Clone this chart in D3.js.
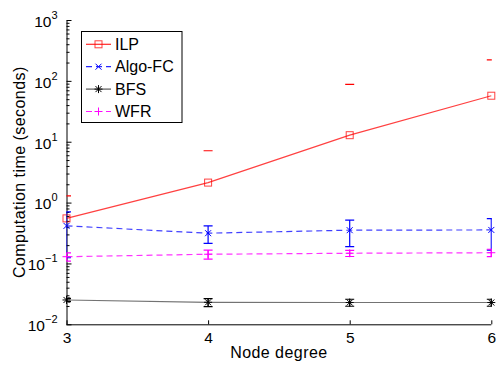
<!DOCTYPE html>
<html>
<head>
<meta charset="utf-8">
<script src="https://cdn.jsdelivr.net/npm/d3@7"></script>
<style>
  body { margin: 0; background: #fff; }
  text { font-family: "Liberation Sans", Arial, Helvetica, sans-serif; fill: #000; }
</style>
</head>
<body>
<svg id="chart" width="499" height="365"></svg>
<script>
// data
var degree = [3, 4, 5, 6];
var ilp = [0.55, 2.13, 12.8, 57];
var ilpErr = [0.74, 4.97, 75, 165];
var algoFC = [0.414, 0.314, 0.352, 0.355];
var algoFCErr = [0.29, 0.10, 0.163, 0.19];
var bfs = [0.0251, 0.0230, 0.0228, 0.0228];
var bfsErr = [0.0015, 0.0035, 0.003, 0.003];
var wfr = [0.129, 0.1416, 0.147, 0.150];
var wfrErr = [0.02, 0.024, 0.017, 0.021];
var yMajor = [-2, -1, 0, 1, 2, 3];

var series = [
  {name: "ILP", y: ilp, err: ilpErr, color: "#ff0000", dash: null, marker: "square", lineOpacity: 0.75},
  {name: "Algo-FC", y: algoFC, err: algoFCErr, color: "#0000ff", dash: "6,4", marker: "x", lineOpacity: 0.75},
  {name: "BFS", y: bfs, err: bfsErr, color: "#000000", dash: null, marker: "star", lineOpacity: 0.55},
  {name: "WFR", y: wfr, err: wfrErr, color: "#ff00ff", dash: "6,4", marker: "plus", lineOpacity: 0.8}
];

var svg = d3.select("#chart");
var mLeft = 66.5, mRight = 491.3, mTop = 20, mBottom = 324.3;

var x = d3.scaleLinear().domain([3, 6]).range([mLeft, mRight]);
var y = d3.scaleLog().domain([1e-2, 1e3]).range([mBottom, mTop]);

svg.append("defs").append("clipPath").attr("id", "plotclip")
  .append("rect").attr("x", mLeft).attr("y", mTop).attr("width", mRight - mLeft + 0.5).attr("height", mBottom - mTop);

// minor ticks on log axis
var minors = [];
yMajor.slice(0, -1).forEach(function(e) {
  for (var k = 2; k < 10; k++) minors.push(k * Math.pow(10, e));
});

svg.append("g")
  .attr("transform", "translate(" + mLeft + ",0)")
  .call(d3.axisLeft(y).tickValues(minors).tickSize(-3).tickSizeOuter(0).tickFormat(""))
  .call(function(g) { g.select(".domain").remove(); g.selectAll("line").attr("stroke", "#000"); });

var yAxis = svg.append("g")
  .attr("transform", "translate(" + mLeft + ",0)")
  .call(d3.axisLeft(y).tickValues(yMajor.map(function(e) { return Math.pow(10, e); }))
    .tickSize(-5).tickSizeOuter(0).tickFormat(""));
yAxis.selectAll("line, path").attr("stroke", "#000");

// superscript labels 10^n
yMajor.forEach(function(e) {
  var t = svg.append("text")
    .attr("x", 57.5).attr("y", y(Math.pow(10, e)) + 6.8)
    .attr("text-anchor", "end").style("font-size", "15.5px");
  t.append("tspan").text("10");
  t.append("tspan").attr("dy", -8).style("font-size", "11px")
    .text(String(e).replace("-", "\u2212"));
});

var xAxis = svg.append("g")
  .attr("transform", "translate(0," + mBottom + ")")
  .call(d3.axisBottom(x).tickValues(degree).tickSize(-4).tickSizeOuter(0).tickFormat(d3.format("d")));
xAxis.selectAll("line, path").attr("stroke", "#000");
xAxis.selectAll("text").style("font-size", "15.5px").attr("y", 7).attr("dy", "0.75em").attr("fill", "#000");
xAxis.select(".domain").attr("d", "M" + mLeft + ",0.5H" + mRight);

svg.append("text")
  .attr("x", (mLeft + mRight) / 2).attr("y", 357.5)
  .attr("text-anchor", "middle").style("font-size", "16px").style("letter-spacing", "0.45px")
  .text("Node degree");

svg.append("text")
  .attr("transform", "translate(25," + ((mTop + mBottom) / 2) + ") rotate(-90)")
  .attr("text-anchor", "middle").style("font-size", "16px").style("letter-spacing", "0.45px")
  .text("Computation time (seconds)");

function drawMarker(g, type, cx, cy, color) {
  if (type === "square") {
    g.append("rect").attr("x", cx - 3.5).attr("y", cy - 3.5).attr("width", 7).attr("height", 7)
      .attr("fill", "none").attr("stroke", color).attr("stroke-opacity", 0.75);
  } else if (type === "x") {
    g.append("path").attr("d", "M" + (cx - 3) + "," + (cy - 3) + "L" + (cx + 3) + "," + (cy + 3) +
      "M" + (cx - 3) + "," + (cy + 3) + "L" + (cx + 3) + "," + (cy - 3))
      .attr("stroke", color).attr("fill", "none");
  } else if (type === "plus") {
    g.append("path").attr("d", "M" + (cx - 4) + "," + cy + "H" + (cx + 4) + "M" + cx + "," + (cy - 4) + "V" + (cy + 4))
      .attr("stroke", color).attr("fill", "none");
  } else if (type === "star") {
    g.append("path").attr("d", "M" + (cx - 4) + "," + cy + "H" + (cx + 4) + "M" + cx + "," + (cy - 4) + "V" + (cy + 4) +
      "M" + (cx - 3) + "," + (cy - 3) + "L" + (cx + 3) + "," + (cy + 3) +
      "M" + (cx - 3) + "," + (cy + 3) + "L" + (cx + 3) + "," + (cy - 3))
      .attr("stroke", color).attr("fill", "none");
  }
}

var line = d3.line()
  .x(function(d, i) { return x(degree[i]); })
  .y(function(d) { return y(d); });

series.forEach(function(s) {
  var g = svg.append("g");
  g.append("path").datum(s.y)
    .attr("d", line)
    .attr("fill", "none")
    .attr("stroke", s.color)
    .attr("stroke-opacity", s.lineOpacity)
    .attr("stroke-width", 1.2)
    .attr("stroke-dasharray", s.dash);

  // error bars (clipped to the axes like the original)
  var eg = g.append("g").attr("clip-path", "url(#plotclip)");
  s.y.forEach(function(v, i) {
    var cx = x(degree[i]);
    var hi = v + s.err[i], lo = v - s.err[i];
    var yh = y(hi);
    eg.append("line").attr("x1", cx - 4.5).attr("x2", cx + 4.5).attr("y1", yh).attr("y2", yh)
      .attr("stroke", s.color).attr("stroke-width", 1.2);
    if (lo > 0) {
      var yl = y(lo);
      eg.append("line").attr("x1", cx).attr("x2", cx).attr("y1", yh).attr("y2", yl)
        .attr("stroke", s.color).attr("stroke-width", 1.2);
      eg.append("line").attr("x1", cx - 4.5).attr("x2", cx + 4.5).attr("y1", yl).attr("y2", yl)
        .attr("stroke", s.color).attr("stroke-width", 1.2);
    }
  });

  s.y.forEach(function(v, i) {
    drawMarker(g, s.marker, x(degree[i]), y(v), s.color);
  });
});

// legend
var lg = svg.append("g");
lg.append("rect").attr("x", 81.5).attr("y", 31.5).attr("width", 100.5).attr("height", 91)
  .attr("fill", "#fff").attr("stroke", "#000");
series.forEach(function(s, i) {
  var ly = 44.3 + i * 22.4;
  lg.append("line").attr("x1", 86).attr("x2", 111).attr("y1", ly).attr("y2", ly)
    .attr("stroke", s.color).attr("stroke-opacity", s.lineOpacity + 0.1)
    .attr("stroke-width", 1.2).attr("stroke-dasharray", s.dash);
  drawMarker(lg, s.marker, 98.5, ly, s.color);
  lg.append("text").attr("x", 115).attr("y", ly + 5.7).style("font-size", "16px").text(s.name);
});
</script>
</body>
</html>
